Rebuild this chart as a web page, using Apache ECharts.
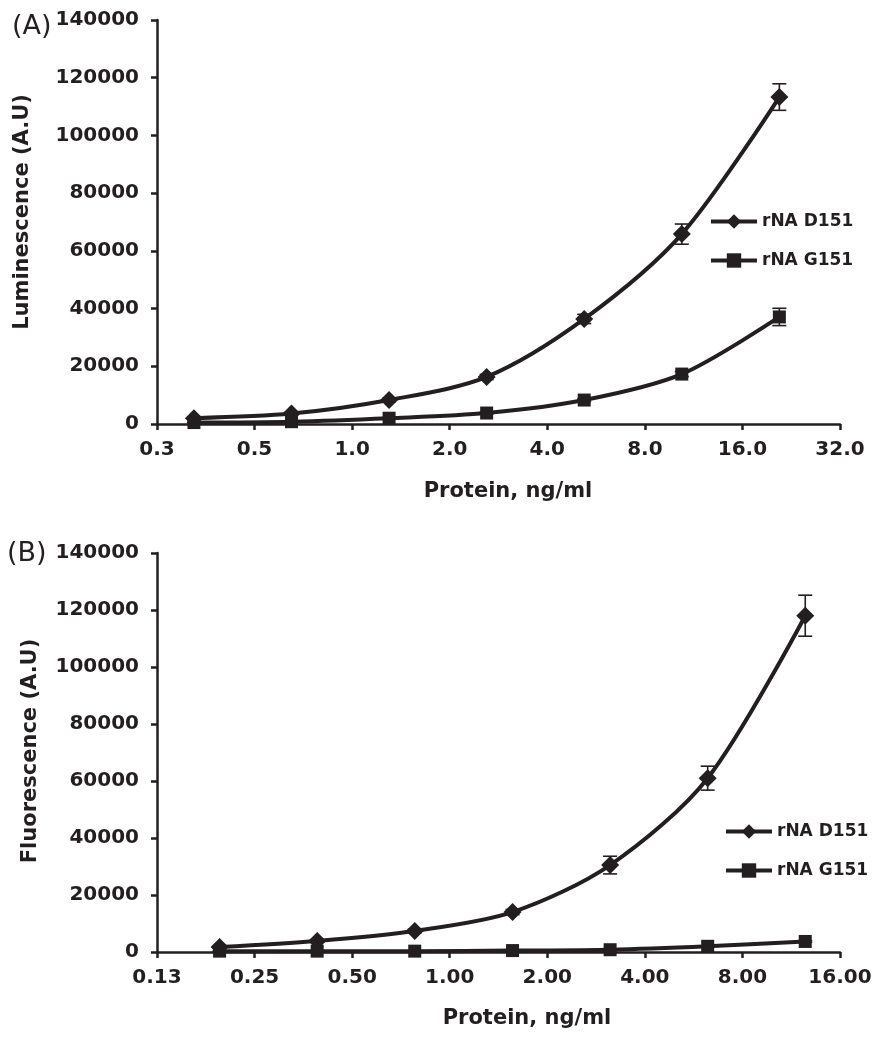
<!DOCTYPE html>
<html>
<head>
<meta charset="utf-8">
<script src="https://cdn.jsdelivr.net/npm/echarts@6/dist/echarts.min.js"></script>
<style>html,body{margin:0;padding:0;background:#fff;}#c{width:880px;height:1050px;}</style>
</head>
<body>
<div id="c"></div>
<script>
// ---- Panel A (Luminescence) ----
const xA = [0.325, 0.65, 1.3, 2.6, 5.2, 10.4, 20.8];
const d151A = [2000, 3600, 8300, 16300, 36400, 65800, 113300];
const d151AErr = [300, 400, 600, 900, 1600, 3500, 4600];
const g151A = [500, 800, 2000, 3800, 8300, 17300, 37100];
const g151AErr = [100, 100, 200, 300, 500, 900, 3000];
const xTickValsA = [0.25, 0.5, 1, 2, 4, 8, 16, 32];
const xTickLabelsA = ['0.3', '0.5', '1.0', '2.0', '4.0', '8.0', '16.0', '32.0'];

// ---- Panel B (Fluorescence) ----
const xB = [0.195, 0.39, 0.78, 1.5625, 3.125, 6.25, 12.5];
const d151B = [1750, 3900, 7400, 14000, 30500, 61000, 118000];
const d151BErr = [300, 400, 600, 900, 3100, 4200, 7200];
const g151B = [300, 300, 300, 500, 800, 2000, 3700];
const g151BErr = [50, 50, 50, 100, 100, 200, 300];
const xTickValsB = [0.125, 0.25, 0.5, 1, 2, 4, 8, 16];
const xTickLabelsB = ['0.13', '0.25', '0.50', '1.00', '2.00', '4.00', '8.00', '16.00'];

const yTicks = [0, 20000, 40000, 60000, 80000, 100000, 120000, 140000];
const yTickLabels = ['0', '20000', '40000', '60000', '80000', '100000', '120000', '140000'];
const seriesNames = ['rNA D151', 'rNA G151'];
const xTitle = 'Protein, ng/ml';
const yTitleA = 'Luminescence (A.U)';
const yTitleB = 'Fluorescence (A.U)';

const INK = '#231f20';
const FONT = 'DejaVu Sans';

function pairs(xs, ys) { return xs.map((x, i) => [x, ys[i]]); }
function errs(xs, ys, es) { return xs.map((x, i) => [x, ys[i] - es[i], ys[i] + es[i]]); }
function labelFor(vals, labels) {
  return function (v) {
    for (let i = 0; i < vals.length; i++) {
      if (Math.abs(Math.log2(v) - Math.log2(vals[i])) < 0.01) return labels[i];
    }
    return '';
  };
}
function yLabel(v) {
  const i = yTicks.indexOf(v);
  return i >= 0 ? yTickLabels[i] : '';
}

function errRender(params, api) {
  const x = api.value(0), lo = api.value(1), hi = api.value(2);
  const p1 = api.coord([x, lo]), p2 = api.coord([x, hi]);
  const w = 7;
  const st = { stroke: INK, lineWidth: 1.6 };
  return {
    type: 'group',
    children: [
      { type: 'line', shape: { x1: p1[0], y1: p1[1], x2: p2[0], y2: p2[1] }, style: st },
      { type: 'line', shape: { x1: p1[0] - w, y1: p1[1], x2: p1[0] + w, y2: p1[1] }, style: st },
      { type: 'line', shape: { x1: p2[0] - w, y1: p2[1], x2: p2[0] + w, y2: p2[1] }, style: st }
    ]
  };
}

function xAxisCfg(gridIndex, vals, labels) {
  return {
    type: 'log', logBase: 2, gridIndex: gridIndex,
    min: vals[0], max: vals[vals.length - 1], splitNumber: vals.length - 1,
    axisLine: { lineStyle: { color: INK, width: 2.5 } },
    axisTick: { show: true, inside: false, length: 6, lineStyle: { color: INK, width: 2.5 } },
    minorTick: { show: false },
    splitLine: { show: false },
    axisLabel: { formatter: labelFor(vals, labels), fontFamily: FONT, fontWeight: 'bold', fontSize: 20, color: INK, margin: 16, showMinLabel: true, showMaxLabel: true }
  };
}
function yAxisCfg(gridIndex) {
  return {
    type: 'value', gridIndex: gridIndex,
    min: yTicks[0], max: yTicks[yTicks.length - 1], interval: yTicks[1] - yTicks[0],
    axisLine: { show: true, lineStyle: { color: INK, width: 2.5 } },
    axisTick: { show: true, inside: false, length: 6, lineStyle: { color: INK, width: 2.5 } },
    splitLine: { show: false },
    axisLabel: { formatter: yLabel, fontFamily: FONT, fontWeight: 'bold', fontSize: 20, color: INK, margin: 18 }
  };
}
function lineSeries(name, xi, xs, ys, symbol, size) {
  return {
    type: 'line', name: name, xAxisIndex: xi, yAxisIndex: xi,
    data: pairs(xs, ys), smooth: 0.3,
    symbol: symbol, symbolSize: size, showSymbol: true,
    lineStyle: { color: INK, width: 4 },
    itemStyle: { color: INK, borderColor: INK, borderWidth: 0 },
    z: 3, animation: false
  };
}
function errSeries(xi, data) {
  return {
    type: 'custom', xAxisIndex: xi, yAxisIndex: xi, renderItem: errRender,
    data: data, encode: { x: 0, y: [1, 2] }, z: 4, animation: false, silent: true
  };
}
function titleText(text, x, y, rot) {
  return {
    type: 'text', x: x, y: y, rotation: rot || 0,
    style: { text: text, fontFamily: FONT, fontWeight: 'bold', fontSize: 21, fill: INK, align: 'center', verticalAlign: 'middle' }
  };
}

const diamond = 'path://M0,-1 L1,0 L0,1 L-1,0 Z';
const legendText = { fontFamily: FONT, fontWeight: 'bold', fontSize: 17, color: INK };

const chart = echarts.init(document.getElementById('c'), null, { renderer: 'canvas' });
chart.setOption({
  backgroundColor: '#fff',
  animation: false,
  textStyle: { fontFamily: FONT },
  grid: [
    { left: 157, top: 20, width: 683, height: 404, containLabel: false },
    { left: 157, top: 553, width: 683, height: 399, containLabel: false }
  ],
  xAxis: [xAxisCfg(0, xTickValsA, xTickLabelsA), xAxisCfg(1, xTickValsB, xTickLabelsB)],
  yAxis: [yAxisCfg(0), yAxisCfg(1)],
  legend: [
    { data: seriesNames, orient: 'vertical', left: 704, top: 208, itemWidth: 46, itemHeight: 18, itemGap: 22,
      lineStyle: { width: 4 }, textStyle: legendText, selectedMode: false },
    { data: seriesNames, orient: 'vertical', left: 719, top: 818, itemWidth: 46, itemHeight: 18, itemGap: 22,
      lineStyle: { width: 4 }, textStyle: legendText, selectedMode: false }
  ],
  graphic: [
    { type: 'text', left: 12, top: 13, style: { text: '(A)', font: '27px "DejaVu Sans"', fill: INK } },
    { type: 'text', left: 7, top: 540, style: { text: '(B)', font: '27px "DejaVu Sans"', fill: INK } },
    titleText(xTitle, 508, 492),
    titleText(xTitle, 527, 1019),
    titleText(yTitleA, 23, 212, Math.PI / 2),
    titleText(yTitleB, 31, 751, Math.PI / 2)
  ],
  series: [
    lineSeries(seriesNames[0], 0, xA, d151A, diamond, 18),
    lineSeries(seriesNames[1], 0, xA, g151A, 'rect', 13),
    errSeries(0, errs(xA, d151A, d151AErr)),
    errSeries(0, errs(xA, g151A, g151AErr)),
    lineSeries(seriesNames[0], 1, xB, d151B, diamond, 18),
    lineSeries(seriesNames[1], 1, xB, g151B, 'rect', 13),
    errSeries(1, errs(xB, d151B, d151BErr)),
    errSeries(1, errs(xB, g151B, g151BErr))
  ]
});
</script>
</body>
</html>
